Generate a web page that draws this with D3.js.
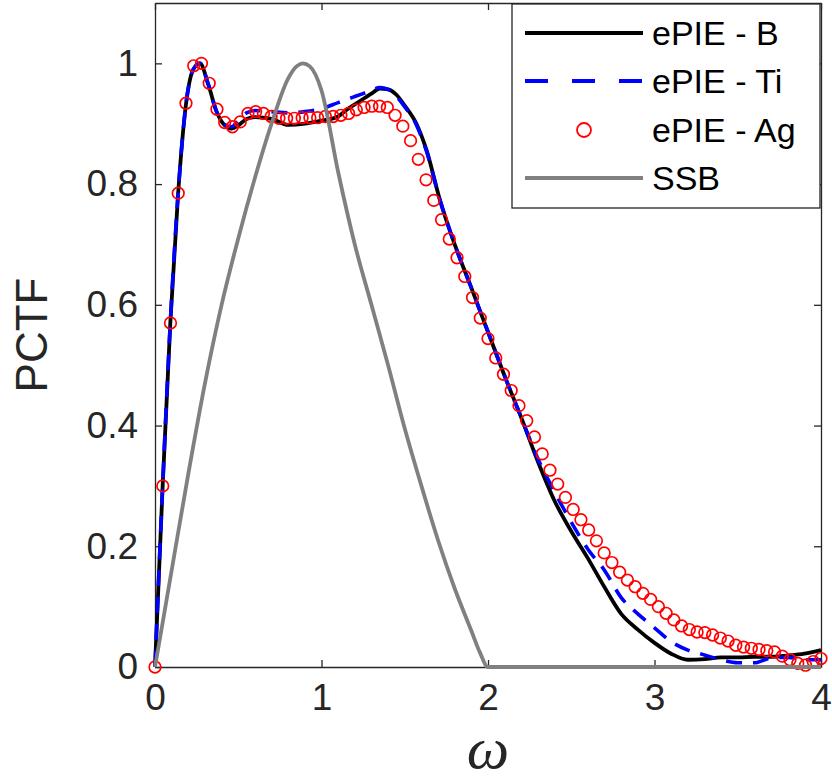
<!DOCTYPE html>
<html><head><meta charset="utf-8">
<script src="https://cdn.jsdelivr.net/npm/d3@7"></script>
<style>body{margin:0;background:#fff}svg{display:block}text{white-space:pre}</style>
</head><body>
<svg id="c" width="832" height="783"></svg>
<script>
// ---- data ----
const xTicks = [0, 1, 2, 3, 4];
const xTickLabels = ["0", "1", "2", "3", "4"];
const yTicks = [0, 0.2, 0.4, 0.6, 0.8, 1];
const yTickLabels = ["0", "0.2", "0.4", "0.6", "0.8", "1"];
const seriesNames = ["ePIE - B", "ePIE - Ti", "ePIE - Ag", "SSB"];

const xB = [0,0.046,0.092,0.139,0.185,0.23,0.27,0.32,0.37,0.41,0.46,0.5,0.55,0.6,0.7,0.8,0.9,1.0,1.1,1.15,1.2,1.3,1.35,1.4,1.45,1.5,1.57,1.63,1.71,1.8,1.9,2.0,2.1,2.2,2.3,2.4,2.5,2.6,2.7,2.8,2.9,3.0,3.1,3.2,3.3,3.4,3.5,3.6,3.7,3.8,3.9,4.0];
const yB = [0,0.30,0.57,0.785,0.93,0.99,1.0,0.965,0.92,0.90,0.892,0.897,0.908,0.911,0.908,0.898,0.900,0.905,0.912,0.923,0.932,0.95,0.958,0.957,0.948,0.93,0.9,0.857,0.775,0.70,0.628,0.555,0.482,0.413,0.34,0.275,0.225,0.18,0.132,0.088,0.062,0.04,0.022,0.012,0.013,0.016,0.016,0.017,0.017,0.019,0.022,0.028];

const xTi = [0,0.046,0.092,0.139,0.185,0.23,0.27,0.32,0.37,0.41,0.46,0.5,0.55,0.6,0.7,0.8,0.9,1.0,1.1,1.2,1.3,1.35,1.4,1.45,1.5,1.57,1.63,1.71,1.8,1.9,2.0,2.1,2.2,2.3,2.4,2.5,2.6,2.7,2.8,2.9,3.0,3.1,3.2,3.3,3.4,3.5,3.6,3.7,3.8,3.9,4.0];
const yTi = [0,0.30,0.57,0.785,0.93,0.99,1.0,0.965,0.92,0.90,0.895,0.905,0.918,0.922,0.92,0.918,0.92,0.925,0.935,0.945,0.955,0.96,0.957,0.945,0.928,0.898,0.855,0.775,0.70,0.628,0.555,0.482,0.413,0.345,0.29,0.24,0.195,0.16,0.115,0.088,0.065,0.042,0.028,0.02,0.012,0.007,0.007,0.015,0.016,0.012,0.012];

// Ag markers: 87 samples on an even grid over [0, 4]
const nAg = 87;
const yAg = [0,0.30,0.57,0.785,0.934,0.996,1.0,0.967,0.924,0.902,
  0.895,0.903,0.917,0.920,0.917,0.912,0.909,0.909,0.909,0.910,
  0.910,0.910,0.912,0.912,0.914,0.917,0.923,0.927,0.929,0.929,
  0.927,0.914,0.896,0.872,0.841,0.807,0.773,0.741,0.709,0.678,
  0.647,0.612,0.578,0.544,0.512,0.485,0.458,0.433,0.408,0.381,
  0.353,0.326,0.303,0.281,0.261,0.244,0.227,0.209,0.189,0.173,
  0.157,0.144,0.133,0.122,0.112,0.100,0.089,0.078,0.068,0.062,
  0.058,0.057,0.053,0.048,0.043,0.036,0.033,0.031,0.029,0.027,
  0.025,0.018,0.012,0.006,0.003,0.009,0.014];
const xAg = yAg.map((_, i) => i * 4 / (nAg - 1));

const xS = [0,0.1,0.2,0.3,0.4,0.5,0.6,0.7,0.8,0.85,0.887,0.93,1.0,1.1,1.2,1.3,1.4,1.5,1.6,1.7,1.8,1.9,1.95,2.0,4.0];
const yS = [0,0.16,0.32,0.47,0.6,0.71,0.81,0.9,0.975,0.995,1.0,0.995,0.955,0.82,0.70,0.60,0.50,0.395,0.30,0.21,0.13,0.06,0.025,0,0];

// ---- layout ----
const L = 155, R = 821, T = 3, B = 667;
const svg = d3.select("#c");
const x = d3.scaleLinear().domain([0, 4]).range([L, R]);
const y = d3.scaleLinear().domain([0, 1.1]).range([B, T]);
const axisCol = "#262626";
const font = "'Liberation Sans', Arial, Helvetica, sans-serif";

function styleAxis(g) {
  g.selectAll("path.domain").attr("stroke", axisCol).attr("stroke-width", 1.3);
  g.selectAll(".tick line").attr("stroke", axisCol).attr("stroke-width", 1.3);
  g.selectAll(".tick text").attr("fill", axisCol).attr("font-family", font).attr("font-size", 37);
}
const gx = svg.append("g").attr("transform", `translate(0,${B})`)
  .call(d3.axisBottom(x).tickValues(xTicks).tickFormat((d, i) => xTickLabels[i]).tickSizeInner(-7).tickSizeOuter(0).tickPadding(17));
styleAxis(gx);
const gxt = svg.append("g").attr("transform", `translate(0,${T})`)
  .call(d3.axisTop(x).tickValues(xTicks).tickFormat("").tickSizeInner(-7).tickSizeOuter(0));
styleAxis(gxt);
const gy = svg.append("g").attr("transform", `translate(${L},0)`)
  .call(d3.axisLeft(y).tickValues(yTicks).tickFormat((d, i) => yTickLabels[i]).tickSizeInner(-7).tickSizeOuter(0).tickPadding(17));
styleAxis(gy);
const gyr = svg.append("g").attr("transform", `translate(${R},0)`)
  .call(d3.axisRight(y).tickValues(yTicks).tickFormat("").tickSizeInner(-7).tickSizeOuter(0));
styleAxis(gyr);

// axis titles
svg.append("text").attr("transform", `translate(47,${(T + B) / 2}) rotate(-90)`)
  .attr("text-anchor", "middle").attr("font-family", font).attr("font-size", 44)
  .attr("fill", axisCol).text("PCTF");
svg.append("text").attr("x", (L + R) / 2).attr("y", 768)
  .attr("text-anchor", "middle").attr("font-family", "'Liberation Serif', 'Times New Roman', serif")
  .attr("font-style", "italic").attr("font-size", 60).attr("fill", axisCol).text("ω");

// ---- series ----
const line = d3.line().x(d => x(d[0])).y(d => y(d[1])).curve(d3.curveMonotoneX);
const zip = (a, b) => a.map((v, i) => [v, b[i]]);

svg.append("path").datum(zip(xB, yB)).attr("d", line)
  .attr("fill", "none").attr("stroke", "#000").attr("stroke-width", 3.8).attr("stroke-linejoin", "round");
svg.append("path").datum(zip(xTi, yTi)).attr("d", line)
  .attr("fill", "none").attr("stroke", "#0000ff").attr("stroke-width", 3.6).attr("stroke-dasharray", "16,11");
svg.append("g").selectAll("circle").data(zip(xAg, yAg)).join("circle")
  .attr("cx", d => x(d[0])).attr("cy", d => y(d[1])).attr("r", 5.8)
  .attr("fill", "none").attr("stroke", "#ff0000").attr("stroke-width", 1.7);
svg.append("path").datum(zip(xS, yS)).attr("d", line)
  .attr("fill", "none").attr("stroke", "#808080").attr("stroke-width", 3.8);

// ---- legend ----
const lg = svg.append("g");
lg.append("rect").attr("x", 512).attr("y", 4).attr("width", 308).attr("height", 204)
  .attr("fill", "#fff").attr("stroke", axisCol).attr("stroke-width", 1.3);
const rowsY = [33, 81, 130, 178];
const styles = [
  {stroke: "#000", dash: null},
  {stroke: "#0000ff", dash: "23,24"},
  {marker: true},
  {stroke: "#808080", dash: null}
];
seriesNames.forEach((name, i) => {
  const s = styles[i], yy = rowsY[i];
  if (s.marker) {
    lg.append("circle").attr("cx", 584).attr("cy", yy).attr("r", 7)
      .attr("fill", "none").attr("stroke", "#ff0000").attr("stroke-width", 1.8);
  } else {
    const l = lg.append("line").attr("x1", 525).attr("x2", 643).attr("y1", yy).attr("y2", yy)
      .attr("stroke", s.stroke).attr("stroke-width", 3.8);
    if (s.dash) l.attr("stroke-dasharray", s.dash);
  }
  lg.append("text").attr("x", 652).attr("y", yy).attr("dy", "0.36em")
    .attr("font-family", font).attr("font-size", 34).attr("fill", "#000").text(name);
});
</script>
</body></html>
